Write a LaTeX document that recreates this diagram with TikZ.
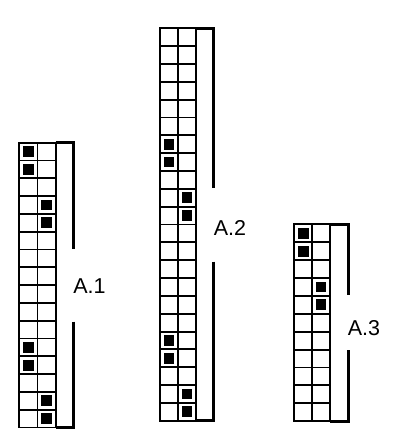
\documentclass[tikz,border=0pt]{standalone}
\usepackage{fontspec}
\setmainfont{Liberation Sans}
\newcommand{\knitchart}[6]{%
  \begin{scope}[shift={(#1,#2)}]
    \foreach \i in {0,...,#5} \draw[gridline] (0,{\i*#4}) -- ({2*#3},{\i*#4});
    \foreach \j in {0,1,2} \draw[gridline] ({\j*#3},0) -- ({\j*#3},{#5*#4});
    \foreach \c/\r in {#6} \fill[cellfill] ({(\c+0.5)*#3-5.4},{(\r-0.5)*#4-5.4}) rectangle ++(10.8,10.8);
  \end{scope}}
\begin{document}
\begin{tikzpicture}[x=1pt,y=-1pt,
  gridline/.style={line width=1.9pt, line cap=rect},
  bracketline/.style={line width=3.2pt},
  cellfill/.style={fill=black},
  lbl/.style={font=\fontsize{21.5}{21.5}\selectfont, inner sep=0pt}]
\useasboundingbox[fill=white] (0,0) rectangle (400,430);
% A.1
\knitchart{19.3}{142.7}{18.2}{17.8}{16}{0/1,0/2,1/4,1/5,0/12,0/13,1/15,1/16}
\node[lbl] (a1) at (89.5,286) {A.1};
\draw[bracketline] (55.7,142.7) -- (73.3,142.7) -- (73.3,249.3);
\draw[bracketline] (73.3,321.7) -- (73.3,427.5) -- (55.7,427.5);
% A.2
\knitchart{160}{28.3}{18}{17.84}{22}{0/7,0/8,1/10,1/11,0/18,0/19,1/21,1/22}
\node[lbl] (a2) at (230,227.8) {A.2};
\draw[bracketline] (196,28.3) -- (213.3,28.3) -- (213.3,188.3);
\draw[bracketline] (213.3,261.7) -- (213.3,420.8) -- (196,420.8);
% A.3
\knitchart{294.3}{224.3}{17.85}{17.9}{11}{0/1,0/2,1/4,1/5}
\node[lbl] (a3) at (364,327.8) {A.3};
\draw[bracketline] (330,224.3) -- (348.3,224.3) -- (348.3,295);
\draw[bracketline] (348.3,350) -- (348.3,421.2) -- (330,421.2);
\end{tikzpicture}
\end{document}
